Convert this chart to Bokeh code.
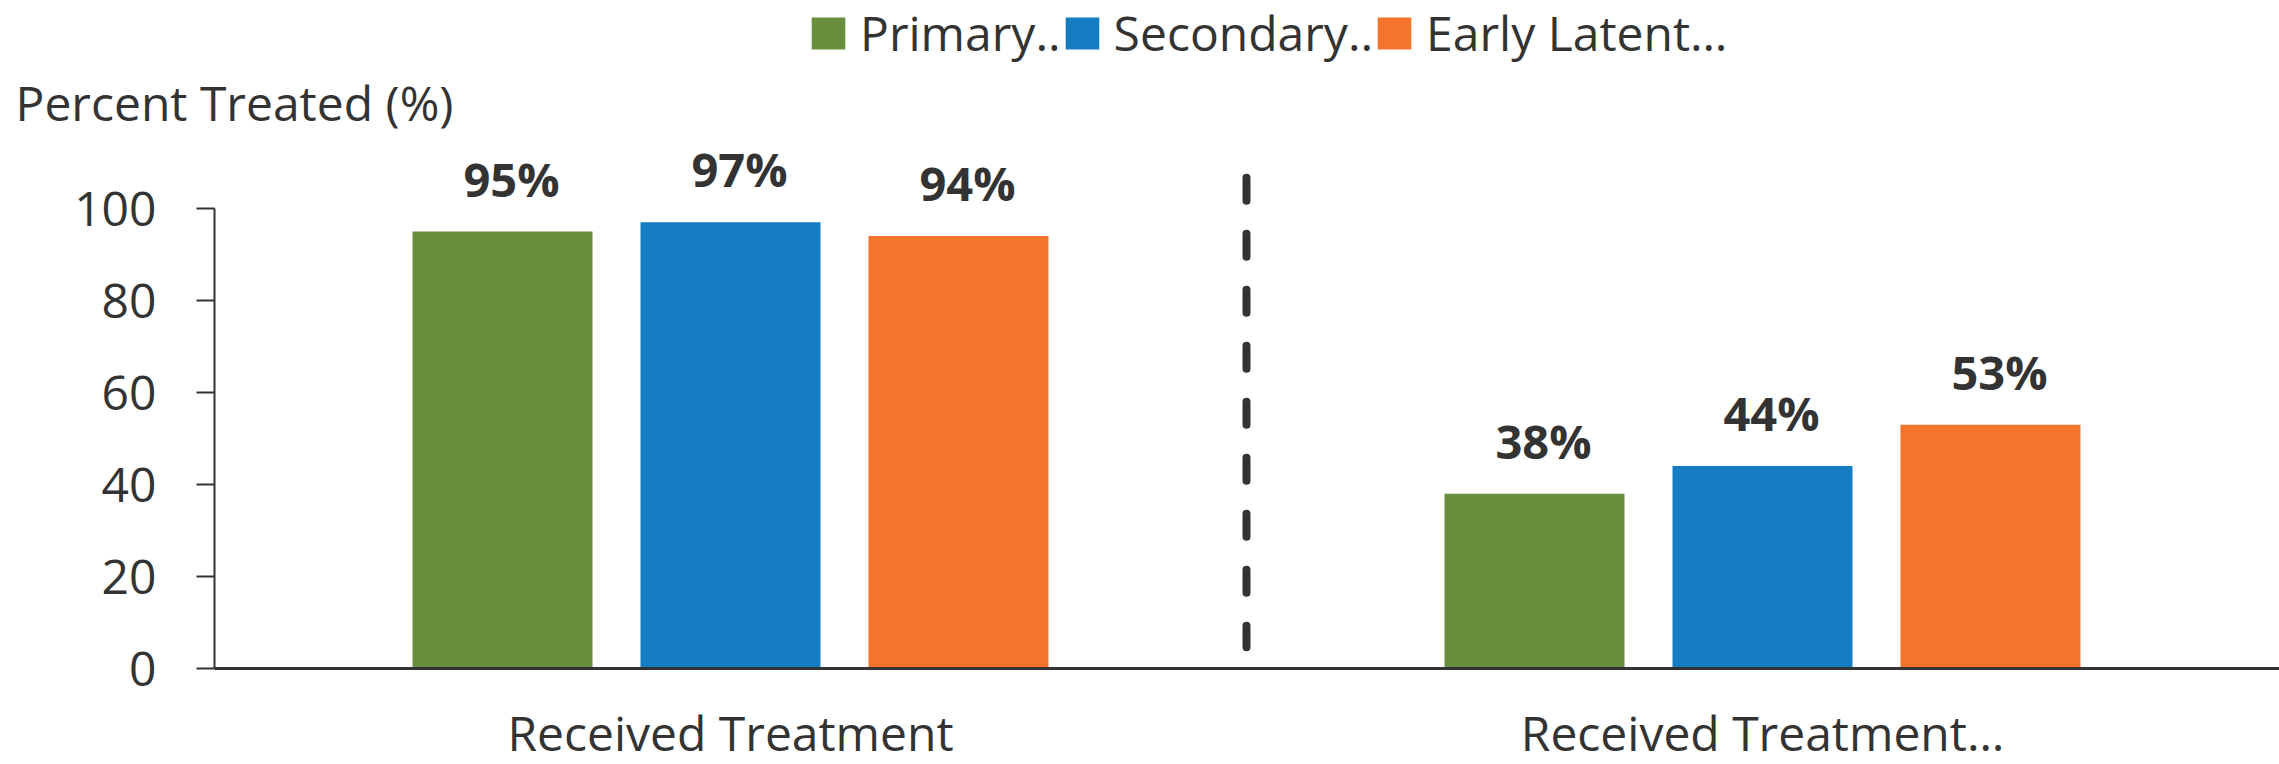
from bokeh.plotting import figure
from bokeh.models import Range1d, FixedTicker, Legend, LegendItem, Label, ColumnDataSource
from bokeh.embed import file_html
from bokeh.resources import INLINE
from bokeh.core.properties import value

# ---- data ----
categories = ["Received Treatment", "Received Treatment…"]
series = ["Primary..", "Secondary..", "Early Latent…"]
primary = [95, 38]
secondary = [97, 44]
early_latent = [94, 53]
y_ticks = [0, 20, 40, 60, 80, 100]
colors = ["#688E3E", "#147CC0", "#F4742C"]

FONT = value("Open Sans")
TXT = "#333333"

W, H = 2279, 764
X0, XPX = 214, 1032.0      # pixel of x=0, pixels per category
Y0, YPX = 668, 4.6         # pixel of y=0, pixels per unit
x_start, x_end = -X0 / XPX, (W - X0) / XPX
y_start, y_end = -(H - Y0) / YPX, Y0 / YPX

p = figure(width=W, height=H, output_backend="svg", toolbar_location=None,
           x_range=Range1d(x_start, x_end), y_range=Range1d(y_start, y_end),
           min_border_left=0, min_border_right=0, min_border_top=0,
           min_border_bottom=0)
p.outline_line_color = None
p.grid.visible = False
p.background_fill_color = "white"

centers = [i + 0.5 for i in range(len(categories))]
offsets = [-0.2209, 0.0, 0.2209]
renderers = []
for k, (vals, col) in enumerate(zip([primary, secondary, early_latent], colors)):
    xs = [c + offsets[k] for c in centers]
    src = ColumnDataSource(dict(x=xs, top=vals, label=[f"{v}%" for v in vals]))
    r = p.vbar(x="x", top="top", width=0.1744, source=src,
               fill_color=col, line_color=None)
    p.text(x="x", y="top", text="label", source=src, x_offset=9, y_offset=-53,
           text_align="center", text_baseline="alphabetic", text_font=FONT,
           text_font_size="47px", text_font_style="bold", text_color=TXT)
    renderers.append(r)

# separator
p.line(x=[1.0, 1.0], y=[106.7, 4.6], line_width=8, line_color=TXT,
       line_dash="23 33", line_cap="round")

# axes (fixed at data 0 so the frame covers the whole canvas)
p.yaxis.fixed_location = 0
p.yaxis.ticker = FixedTicker(ticks=y_ticks)
p.yaxis.bounds = (0, 100)
p.yaxis.major_tick_out = 18
p.yaxis.major_tick_in = 0
p.yaxis.minor_tick_out = 0
p.yaxis.minor_tick_in = 0
p.yaxis.axis_line_width = 2
p.yaxis.axis_line_color = TXT
p.yaxis.major_tick_line_width = 2
p.yaxis.major_tick_line_color = TXT
p.yaxis.major_label_standoff = 40
p.yaxis.major_label_text_font = "Open Sans"
p.yaxis.major_label_text_font_size = "48px"
p.yaxis.major_label_text_color = TXT

p.xaxis.fixed_location = 0
p.xaxis.ticker = FixedTicker(ticks=centers)
p.xaxis.bounds = (0, x_end)
p.xaxis.major_label_overrides = {c: cat for c, cat in zip(centers, categories)}
p.xaxis.major_tick_out = 0
p.xaxis.major_tick_in = 0
p.xaxis.minor_tick_out = 0
p.xaxis.minor_tick_in = 0
p.xaxis.axis_line_width = 3
p.xaxis.axis_line_color = TXT
p.xaxis.major_label_standoff = 31
p.xaxis.major_label_text_font = "Open Sans"
p.xaxis.major_label_text_font_size = "48px"
p.xaxis.major_label_text_color = TXT

# y title
p.add_layout(Label(x=15, y=H - 102, x_units="screen", y_units="screen",
                   text="Percent Treated (%)", text_font="Open Sans",
                   text_font_size="48px", text_color=TXT,
                   text_baseline="alphabetic"))

# legend: location is the bottom-left corner, measured from the frame's bottom-left
legend = Legend(items=[LegendItem(label=s, renderers=[r]) for s, r in zip(series, renderers)],
                orientation="horizontal", location=(807, H - 65),
                glyph_width=42, glyph_height=40, label_standoff=11, spacing=0,
                padding=0, margin=0, border_line_color=None,
                background_fill_alpha=0, label_text_font="Open Sans",
                label_text_font_size="48px", label_text_color=TXT)
p.add_layout(legend, "center")

open("out.html", "w").write(file_html(p, INLINE))
